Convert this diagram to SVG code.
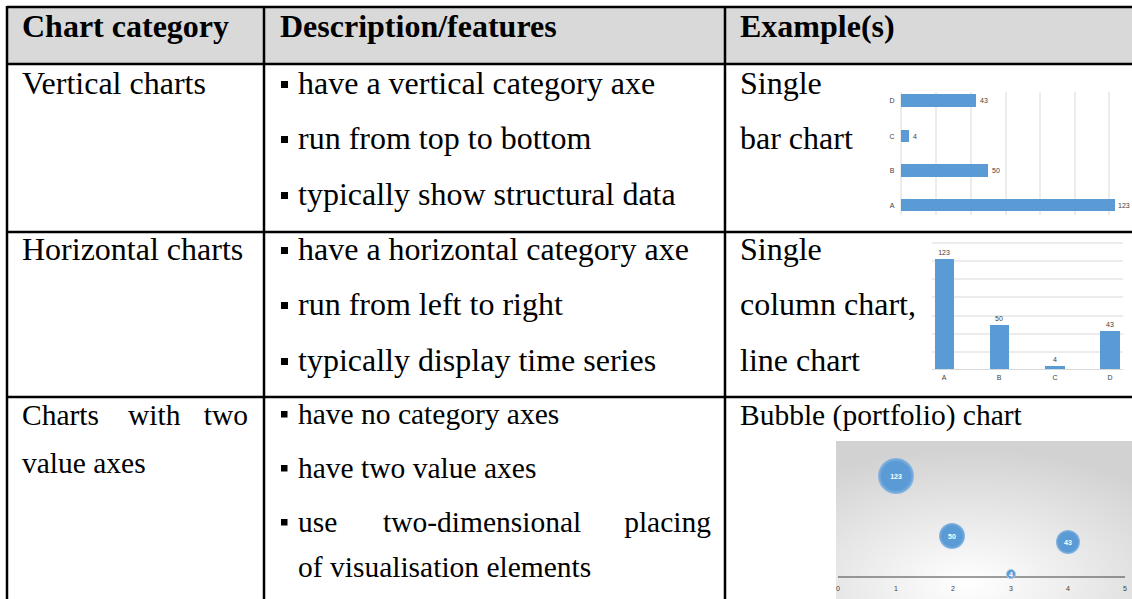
<svg xmlns="http://www.w3.org/2000/svg" width="1132" height="599" viewBox="0 0 1132 599">
<defs>
<style>
.t{font-family:"Liberation Serif","Times New Roman",serif;font-size:32px;fill:#000}
.r3{font-size:29.5px}
.b{font-weight:bold}
.grid{stroke:#d9d9d9;stroke-width:1}
.bar{fill:#5b9bd5}
.s{font-family:"Liberation Sans",Arial,sans-serif;font-size:7px;fill:#404040}
.bl{font-family:"Liberation Sans",Arial,sans-serif;font-size:7px;fill:#fff;font-weight:bold}
.line{stroke:#000;stroke-width:2.5}
</style>
<rect id="bul" width="7" height="7" fill="#000"/>
<rect id="bul3" width="6.5" height="6.5" fill="#000"/>
<radialGradient id="bg" cx="0.45" cy="0.9" r="0.85">
<stop offset="0" stop-color="#ffffff"/>
<stop offset="1" stop-color="#d2d2d2"/>
</radialGradient>
<radialGradient id="bub" cx="0.5" cy="0.5" r="0.5">
<stop offset="0.8" stop-color="#5b9bd5"/>
<stop offset="1" stop-color="#8ab8e2"/>
</radialGradient>
</defs>
<rect width="1132" height="599" fill="#fff"/>
<g id="header">
<rect x="7" y="7" width="1125" height="57" fill="#d9d9d9"/>
<text class="t b" x="22" y="37">Chart category</text>
<text class="t b" x="280" y="37">Description/features</text>
<text class="t b" x="740" y="37">Example(s)</text>
</g>
<g id="row-vertical">
<text class="t" x="22" y="94">Vertical charts</text>
<use href="#bul" x="281" y="81"/><text class="t" x="298" y="94">have a vertical category axe</text>
<use href="#bul" x="281" y="136"/><text class="t" x="298" y="149">run from top to bottom</text>
<use href="#bul" x="281" y="192"/><text class="t" x="298" y="205">typically show structural data</text>
<text class="t" x="740" y="94">Single</text>
<text class="t" x="740" y="149">bar chart</text>
</g>
<g id="bar-chart">
<g class="grid">
<line x1="901" y1="92" x2="901" y2="215"/>
<line x1="936" y1="92" x2="936" y2="215"/>
<line x1="971" y1="92" x2="971" y2="215"/>
<line x1="1006" y1="92" x2="1006" y2="215"/>
<line x1="1040" y1="92" x2="1040" y2="215"/>
<line x1="1075" y1="92" x2="1075" y2="215"/>
<line x1="1109" y1="92" x2="1109" y2="215"/>
</g>
<rect class="bar" x="901" y="94" width="75" height="13"/>
<rect class="bar" x="901" y="130" width="8" height="12"/>
<rect class="bar" x="901" y="164" width="87" height="13"/>
<rect class="bar" x="901" y="199" width="214" height="12"/>
<text class="s" x="892" y="103" text-anchor="middle">D</text>
<text class="s" x="892" y="139" text-anchor="middle">C</text>
<text class="s" x="892" y="173" text-anchor="middle">B</text>
<text class="s" x="892" y="208" text-anchor="middle">A</text>
<text class="s" x="980" y="103">43</text>
<text class="s" x="913" y="139">4</text>
<text class="s" x="992" y="173">50</text>
<text class="s" x="1118" y="208">123</text>
</g>
<g id="row-horizontal">
<text class="t" x="22" y="260">Horizontal charts</text>
<use href="#bul" x="281" y="247"/><text class="t" x="298" y="260">have a horizontal category axe</text>
<use href="#bul" x="281" y="302"/><text class="t" x="298" y="315">run from left to right</text>
<use href="#bul" x="281" y="358"/><text class="t" x="298" y="371">typically display time series</text>
<text class="t" x="740" y="260">Single</text>
<text class="t" x="740" y="315">column chart,</text>
<text class="t" x="740" y="371">line chart</text>
</g>
<g id="column-chart">
<g class="grid">
<line x1="932" y1="243" x2="1123" y2="243"/>
<line x1="932" y1="261" x2="1123" y2="261"/>
<line x1="932" y1="279" x2="1123" y2="279"/>
<line x1="932" y1="297" x2="1123" y2="297"/>
<line x1="932" y1="316" x2="1123" y2="316"/>
<line x1="932" y1="334" x2="1123" y2="334"/>
<line x1="932" y1="352" x2="1123" y2="352"/>
<line x1="932" y1="369.5" x2="1123" y2="369.5"/>
</g>
<rect class="bar" x="935" y="259" width="19" height="110"/>
<rect class="bar" x="990" y="325" width="19" height="44"/>
<rect class="bar" x="1045" y="366" width="20" height="3"/>
<rect class="bar" x="1100" y="331" width="20" height="38"/>
<text class="s" x="944" y="255" text-anchor="middle">123</text>
<text class="s" x="999" y="321" text-anchor="middle">50</text>
<text class="s" x="1055" y="362" text-anchor="middle">4</text>
<text class="s" x="1110" y="327" text-anchor="middle">43</text>
<text class="s" x="944" y="380" text-anchor="middle">A</text>
<text class="s" x="999" y="380" text-anchor="middle">B</text>
<text class="s" x="1055" y="380" text-anchor="middle">C</text>
<text class="s" x="1110" y="380" text-anchor="middle">D</text>
</g>
<g id="row-two-value">
<text class="t r3" x="22" y="425">Charts</text>
<text class="t r3" x="128" y="425">with</text>
<text class="t r3" x="248" y="425" text-anchor="end">two</text>
<text class="t r3" x="22" y="473">value axes</text>
<use href="#bul3" x="281" y="411"/><text class="t r3" x="298" y="424">have no category axes</text>
<use href="#bul3" x="281" y="465"/><text class="t r3" x="298" y="478">have two value axes</text>
<use href="#bul3" x="281" y="519"/><text class="t r3" x="298" y="532">use</text>
<text class="t r3" x="383" y="532">two-dimensional</text>
<text class="t r3" x="711" y="532" text-anchor="end">placing</text>
<text class="t r3" x="298" y="577">of visualisation elements</text>
<text class="t r3" x="740" y="425">Bubble (portfolio) chart</text>
</g>
<g id="bubble-chart">
<rect x="836" y="441" width="296" height="158" fill="url(#bg)"/>
<line x1="838" y1="577" x2="1125" y2="577" stroke="#404040" stroke-width="1.2"/>
<circle cx="896" cy="476" r="18" fill="url(#bub)"/>
<circle cx="952" cy="536" r="13" fill="url(#bub)"/>
<circle cx="1068" cy="542" r="12" fill="url(#bub)"/>
<circle cx="1011" cy="574" r="4.5" fill="#5b9bd5" stroke="#a9c9e8" stroke-width="1"/>
<text class="bl" x="896" y="479" text-anchor="middle">123</text>
<text class="bl" x="952" y="539" text-anchor="middle">50</text>
<text class="bl" x="1068" y="545" text-anchor="middle">43</text>
<text class="bl" x="1011" y="576.5" text-anchor="middle" font-size="6">4</text>
<text class="s" x="838" y="591" text-anchor="middle" fill="#808080">0</text>
<text class="s" x="896" y="591" text-anchor="middle" fill="#808080">1</text>
<text class="s" x="953" y="591" text-anchor="middle" fill="#808080">2</text>
<text class="s" x="1011" y="591" text-anchor="middle" fill="#808080">3</text>
<text class="s" x="1068" y="591" text-anchor="middle" fill="#808080">4</text>
<text class="s" x="1125" y="591" text-anchor="middle" fill="#808080">5</text>
</g>
<g id="table-lines" class="line">
<line x1="7" y1="7" x2="1132" y2="7"/>
<line x1="7" y1="64" x2="1132" y2="64"/>
<line x1="7" y1="232" x2="1132" y2="232"/>
<line x1="7" y1="397" x2="1132" y2="397"/>
<line x1="7" y1="6" x2="7" y2="599"/>
<line x1="264" y1="6" x2="264" y2="599"/>
<line x1="725" y1="6" x2="725" y2="599"/>
</g>
</svg>
